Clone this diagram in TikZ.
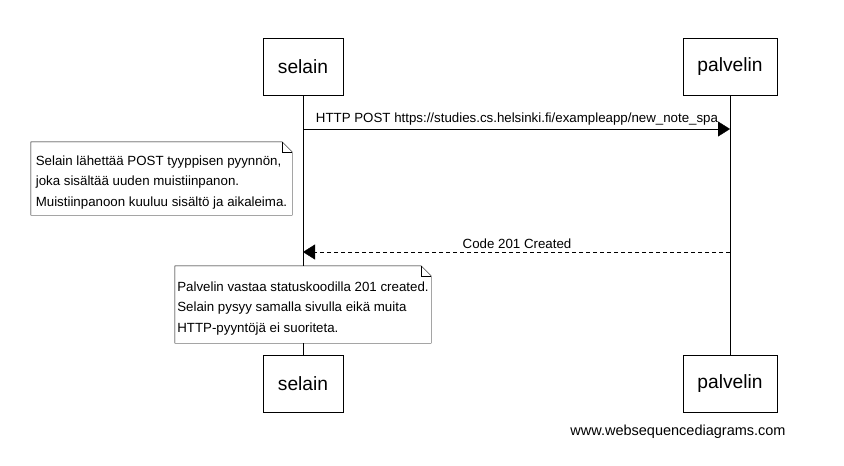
\documentclass[tikz,border=0pt]{standalone}
\usepackage{fontspec}
\setmainfont{Liberation Sans}
\usetikzlibrary{positioning,arrows.meta}

\begin{document}
\begin{tikzpicture}[x=1pt,y=-1pt,
  actor/.style={draw, fill=white, minimum height=57pt, inner sep=0pt, font=\fontsize{19.2}{23}\selectfont},
  msg/.style={inner sep=0pt, font=\fontsize{13.3}{15}\selectfont},
  note/.style={fill=white, inner sep=0pt, align=left, font=\fontsize{13.3}{20.5}\selectfont},
  head/.style={-{Triangle[length=12pt,width=15pt]}}]
\useasboundingbox (0,0) rectangle (844,466);
% participants
\node[actor, minimum width=80pt] (s1) at (303,66.5) {selain};
\node[actor, minimum width=94pt] (p1) at (730,66.5) {palvelin};
\node[actor, minimum width=80pt] (s2) at (303,384) {selain};
\node[actor, minimum width=94pt] (p2) at (730,384) {palvelin};
% lifelines
\draw (s1.south) -- (s2.north);
\draw (p1.south) -- (p2.north);
% messages
\coordinate (a1) at (303,129);
\coordinate (b1) at (730,129);
\draw[head] (a1) -- (b1);
\node[msg] (m1) at (517,119.5) {HTTP POST https://studies.cs.helsinki.fi/exampleapp/new\_note\_spa};
\coordinate (a2) at (730,252);
\coordinate (b2) at (303,252);
\draw[head, dashed, dash pattern=on 4pt off 3pt] (a2) -- (b2);
\node[msg] (m2) at (517,243.5) {Code 201 Created};
% notes
\node[note, minimum width=261pt, minimum height=73pt] (n1) at (161.5,178.5)
  {\rule{0pt}{17pt}Selain lähettää POST tyyppisen pyynnön,\\joka sisältää uuden muistiinpanon.\\Muistiinpanoon kuuluu sisältö ja aikaleima.};
\draw ([xshift=-10pt]n1.north east) -- (n1.north west) -- (n1.south west) -- (n1.south east) -- ([yshift=-10pt]n1.north east) -- cycle;
\draw ([xshift=-10pt]n1.north east) |- ([yshift=-10pt]n1.north east);
\node[note, minimum width=256pt, minimum height=77pt] (n2) at (303,304.5)
  {\rule{0pt}{17pt}Palvelin vastaa statuskoodilla 201 created.\\Selain pysyy samalla sivulla eikä muita\\HTTP-pyyntöjä ei suoriteta.};
\draw ([xshift=-10pt]n2.north east) -- (n2.north west) -- (n2.south west) -- (n2.south east) -- ([yshift=-10pt]n2.north east) -- cycle;
\draw ([xshift=-10pt]n2.north east) |- ([yshift=-10pt]n2.north east);
% watermark
\node[msg, font=\fontsize{14.5}{17}\selectfont] (w) at (678,432) {www.websequencediagrams.com};
\end{tikzpicture}
\end{document}
